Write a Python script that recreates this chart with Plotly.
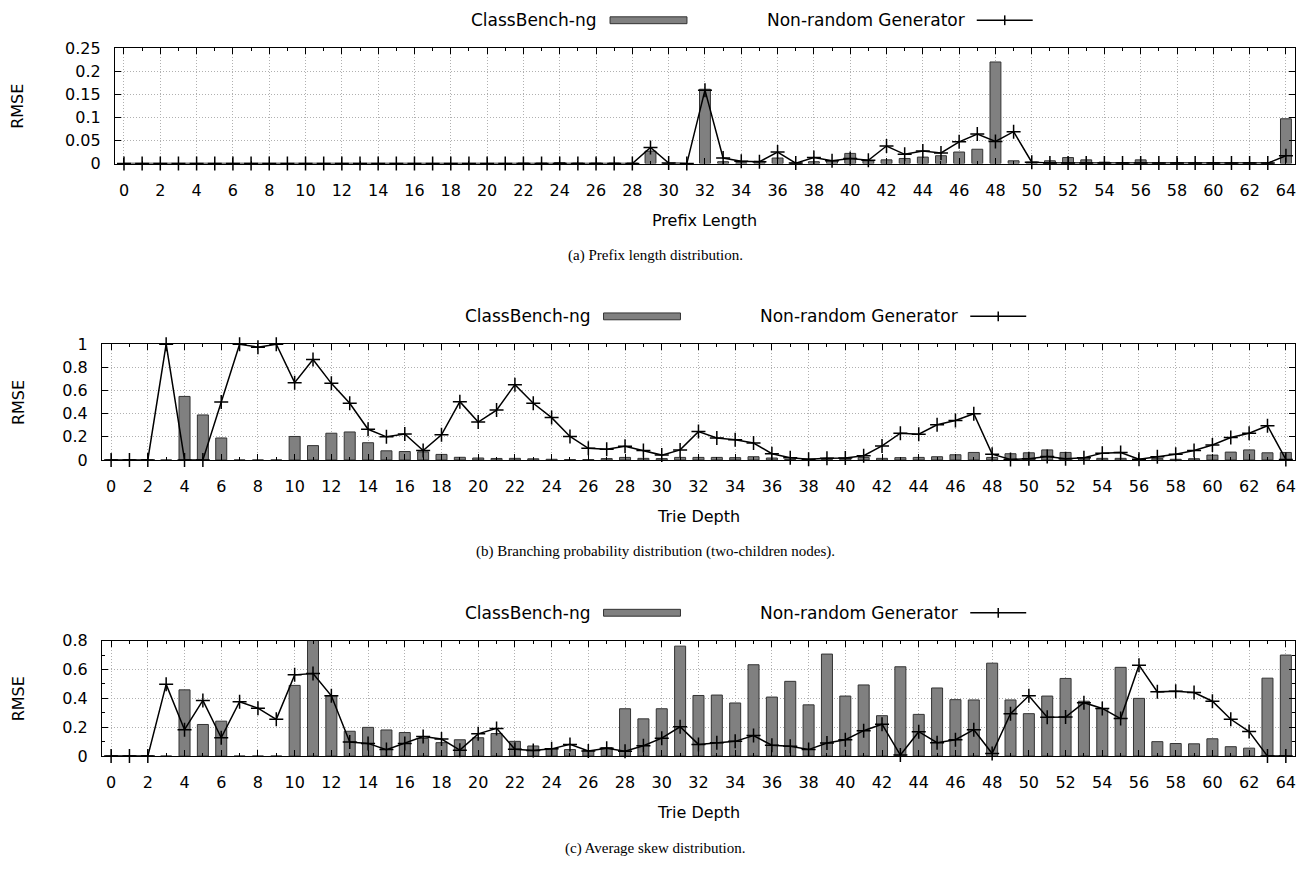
import plotly.graph_objects as go

W, H = 1312, 873

depth = list(range(65))
x_tick_vals = list(range(0, 65, 2))

# (a) Prefix length distribution
cb_prefix = [0, 0, 0, 0, 0, 0, 0, 0, 0, 0, 0, 0, 0, 0, 0, 0, 0, 0, 0, 0, 0, 0,
             0.001, 0.001, 0.002, 0.001, 0.001, 0.001, 0.001, 0.027, 0, 0, 0.161,
             0.004, 0.002, 0.005, 0.012, 0.001, 0.004, 0.006, 0.022, 0.006, 0.008,
             0.011, 0.014, 0.017, 0.025, 0.031, 0.220, 0.006, 0.003, 0.006, 0.013,
             0.008, 0.003, 0.002, 0.008, 0.001, 0.002, 0.001, 0.002, 0.001, 0.002,
             0.001, 0.097]
ng_prefix = [0, 0, 0, 0, 0, 0, 0, 0, 0, 0, 0, 0, 0, 0, 0, 0, 0, 0, 0, 0, 0, 0,
             0, 0, 0, 0, 0, 0, 0, 0.035, 0.001, 0, 0.159, 0.012, 0.005, 0.004,
             0.025, 0.001, 0.013, 0.006, 0.011, 0.007, 0.038, 0.020, 0.027, 0.023,
             0.047, 0.064, 0.048, 0.069, 0.003, 0.001, 0.001, 0.001, 0.001, 0.001,
             0.001, 0.001, 0.001, 0.001, 0.001, 0.001, 0.001, 0.001, 0.017]

# (b) Branching probability distribution
cb_branch = [0, 0, 0, 0, 0.549, 0.389, 0.19, 0, 0, 0, 0.203, 0.124, 0.231, 0.242,
             0.149, 0.079, 0.073, 0.07, 0.048, 0.023, 0.017, 0.013, 0.014, 0.01,
             0.006, 0.004, 0.004, 0.012, 0.022, 0.014, 0.012, 0.022, 0.022, 0.022,
             0.02, 0.028, 0.017, 0.005, 0.003, 0.005, 0.01, 0.022, 0.014, 0.02,
             0.022, 0.028, 0.045, 0.065, 0.022, 0.054, 0.062, 0.087, 0.065, 0.02,
             0.014, 0.014, 0.005, 0.014, 0.006, 0.011, 0.042, 0.068, 0.087, 0.062,
             0.065]
ng_branch = [0, 0, 0, 1.0, 0, 0, 0.5, 1.0, 0.975, 1.0, 0.668, 0.868, 0.662, 0.49,
             0.265, 0.2, 0.225, 0.082, 0.217, 0.504, 0.327, 0.431, 0.651, 0.49,
             0.366, 0.203, 0.101, 0.093, 0.118, 0.082, 0.042, 0.087, 0.245, 0.19,
             0.175, 0.146, 0.054, 0.02, 0.006, 0.014, 0.017, 0.037, 0.121, 0.231,
             0.223, 0.304, 0.341, 0.40, 0.05, 0.005, 0.011, 0.03, 0.011, 0.02,
             0.059, 0.065, 0.006, 0.028, 0.05, 0.082, 0.13, 0.194, 0.231, 0.296,
             0.005]

# (c) Average skew distribution
cb_skew = [0, 0, 0, 0, 0.459, 0.219, 0.242, 0, 0, 0, 0.49, 0.85, 0.418, 0.172,
           0.199, 0.181, 0.163, 0.122, 0.093, 0.113, 0.127, 0.156, 0.102, 0.07,
           0.05, 0.045, 0.038, 0.059, 0.328, 0.258, 0.328, 0.762, 0.42, 0.423,
           0.368, 0.633, 0.409, 0.518, 0.355, 0.707, 0.416, 0.493, 0.28, 0.619,
           0.289, 0.472, 0.391, 0.389, 0.644, 0.389, 0.294, 0.416, 0.538, 0.38,
           0.33, 0.615, 0.40, 0.10, 0.087, 0.085, 0.12, 0.065, 0.055, 0.54, 0.70]
ng_skew = [0, 0, 0, 0.497, 0.183, 0.386, 0.127, 0.377, 0.332, 0.255, 0.563,
           0.572, 0.418, 0.097, 0.088, 0.045, 0.088, 0.136, 0.118, 0.041, 0.154,
           0.192, 0.047, 0.038, 0.05, 0.081, 0.036, 0.054, 0.034, 0.072, 0.124,
           0.203, 0.081, 0.093, 0.102, 0.142, 0.075, 0.068, 0.045, 0.09, 0.113,
           0.176, 0.221, 0.007, 0.169, 0.093, 0.113, 0.183, 0.018, 0.294, 0.418,
           0.269, 0.271, 0.37, 0.33, 0.26, 0.63, 0.445, 0.45, 0.44, 0.38, 0.255,
           0.17, 0.0, 0.0]

series_names = ["ClassBench-ng", "Non-random Generator"]
x_titles = ["Prefix Length", "Trie Depth", "Trie Depth"]
y_title = "RMSE"
captions = ["(a) Prefix length distribution.",
            "(b) Branching probability distribution (two-children nodes).",
            "(c) Average skew distribution."]

panels = [
    dict(cb=cb_prefix, ng=ng_prefix, yr=[0, 0.25], dy=0.05, ydm=None,
         left=115, top=40, bottom=158),
    dict(cb=cb_branch, ng=ng_branch, yr=[0, 1], dy=0.2, ydm=None,
         left=102, top=342.7, bottom=461),
    dict(cb=cb_skew, ng=ng_skew, yr=[0, 0.8], dy=0.2, ydm=0.1,
         left=102, top=645.7, bottom=763.7),
]
RIGHT = 1296

FONT = "DejaVu Sans"
SERIF = "Liberation Serif"
BAR_FILL = "#808080"
BAR_EDGE = "#333333"
GRID = "#b0b0b0"
GRID_DASH = "1px,2px"
KEY_FONT = 17


def px(x):
    return x / W


def py(y):
    return 1 - y / H


def label(text, x, y, font, size, xanchor="center", angle=0):
    return dict(text=text, x=px(x), y=py(y), xref="paper", yref="paper",
                xanchor=xanchor, yanchor="middle", textangle=angle,
                showarrow=False, font=dict(family=font, size=size,
                                           color="black"))


fig = go.Figure()
annotations = []
shapes = []
layout = {}

for i, p in enumerate(panels):
    n = "" if i == 0 else str(i + 1)
    xa, ya = "x" + n, "y" + n
    fig.add_trace(go.Bar(x=depth, y=p["cb"], xaxis=xa, yaxis=ya, width=0.6,
                         marker=dict(color=BAR_FILL,
                                     line=dict(color=BAR_EDGE, width=1)),
                         name=series_names[0], showlegend=False))
    fig.add_trace(go.Scatter(x=depth, y=p["ng"], xaxis=xa, yaxis=ya,
                             mode="lines+markers", cliponaxis=False,
                             line=dict(color="black", width=1.5),
                             marker=dict(symbol="cross-thin", size=10,
                                         line=dict(color="black", width=1.5)),
                             name=series_names[1], showlegend=False))
    xdom = [px(p["left"]), px(RIGHT)]
    ydom = [py(p["bottom"]), py(p["top"])]
    layout["xaxis" + n] = dict(
        domain=xdom, anchor=ya, range=[-0.5, 64.5],
        tickmode="array", tickvals=x_tick_vals,
        ticks="inside", ticklen=6, tickcolor="black", tickwidth=1,
        showline=True, linecolor="black", linewidth=1, mirror="allticks",
        showgrid=True, gridcolor=GRID, griddash=GRID_DASH, gridwidth=1,
        zeroline=False, ticklabelstandoff=12,
        tickfont=dict(family=FONT, size=16, color="black"),
        minor=dict(tickmode="linear", tick0=0, dtick=1, ticks="inside",
                   ticklen=3, tickcolor="black", showgrid=False),
    )
    yax = dict(
        domain=ydom, anchor=xa, range=p["yr"], dtick=p["dy"], tick0=0,
        ticks="inside", ticklen=6, tickcolor="black", tickwidth=1,
        showline=True, linecolor="black", linewidth=1, mirror="allticks",
        showgrid=True, gridcolor=GRID, griddash=GRID_DASH, gridwidth=1,
        zeroline=False, ticklabelstandoff=10,
        tickfont=dict(family=FONT, size=16, color="black"),
    )
    if p["ydm"]:
        yax["minor"] = dict(dtick=p["ydm"], ticks="inside", ticklen=3,
                            tickcolor="black", showgrid=False)
    layout["yaxis" + n] = yax

    cx = (p["left"] + RIGHT) / 2
    cy = (p["top"] + p["bottom"]) / 2
    # axis titles and caption
    annotations.append(label(y_title, 18, cy, FONT, 16, angle=-90))
    annotations.append(label(x_titles[i], cx, p["bottom"] + 58, FONT, 16))
    annotations.append(label(captions[i], 656, p["bottom"] + 94, SERIF, 15))
    # legend (key), positioned relative to the plot centre
    ly = p["top"] - 28.5
    annotations.append(label(series_names[0], cx - 107, ly, FONT, KEY_FONT,
                             xanchor="right"))
    annotations.append(label(series_names[1], cx + 262, ly, FONT, KEY_FONT,
                             xanchor="right"))
    shapes.append(dict(type="rect", xref="paper", yref="paper",
                       x0=px(cx - 95), x1=px(cx - 18),
                       y0=py(ly + 3.5), y1=py(ly - 3.5),
                       fillcolor=BAR_FILL, line=dict(color=BAR_EDGE, width=1)))
    shapes.append(dict(type="line", xref="paper", yref="paper",
                       x0=px(cx + 272), x1=px(cx + 328),
                       y0=py(ly), y1=py(ly),
                       line=dict(color="black", width=1.5)))
    shapes.append(dict(type="line", xref="paper", yref="paper",
                       x0=px(cx + 300), x1=px(cx + 300),
                       y0=py(ly - 5), y1=py(ly + 5),
                       line=dict(color="black", width=1.5)))

fig.update_layout(
    width=W, height=H, margin=dict(l=0, r=0, t=0, b=0),
    paper_bgcolor="white", plot_bgcolor="white",
    showlegend=False, bargap=0.4,
    annotations=annotations, shapes=shapes, **layout,
)

fig.write_html("out.html")
